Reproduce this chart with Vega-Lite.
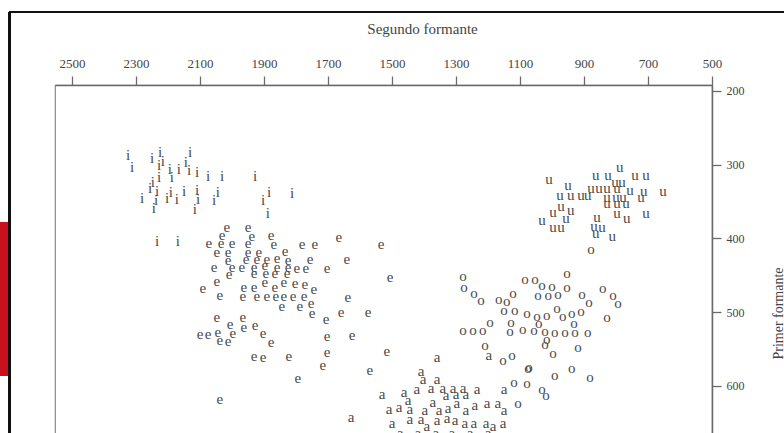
{
  "$schema": "https://vega.github.io/schema/vega-lite/v6.json",
  "width": 657,
  "height": 370,
  "autosize": {"type": "none"},
  "padding": {"left": 55, "top": 85, "right": 72, "bottom": 0},
  "background": "white",
  "config": {
    "view": {"stroke": "#8a8a8a", "strokeWidth": 1.2},
    "font": "Liberation Serif"
  },
  "data": {"values": [
    {"v":"i","f2":2325,"f1":287},{"v":"i","f2":2312,"f1":303},{"v":"i","f2":2250,"f1":291},{"v":"i","f2":2225,"f1":283},
    {"v":"i","f2":2216,"f1":295},{"v":"i","f2":2228,"f1":300},{"v":"i","f2":2228,"f1":317},{"v":"i","f2":2194,"f1":306},
    {"v":"i","f2":2188,"f1":317},{"v":"i","f2":2166,"f1":306},{"v":"i","f2":2144,"f1":296},{"v":"i","f2":2131,"f1":283},
    {"v":"i","f2":2134,"f1":307},{"v":"i","f2":2109,"f1":310},{"v":"i","f2":2075,"f1":315},{"v":"i","f2":2031,"f1":315},
    {"v":"i","f2":1928,"f1":315},{"v":"i","f2":2256,"f1":332},{"v":"i","f2":2247,"f1":323},{"v":"i","f2":2234,"f1":336},
    {"v":"i","f2":2281,"f1":345},{"v":"i","f2":2237,"f1":348},{"v":"i","f2":2244,"f1":359},{"v":"i","f2":2203,"f1":345},
    {"v":"i","f2":2191,"f1":337},{"v":"i","f2":2172,"f1":347},{"v":"i","f2":2150,"f1":336},{"v":"i","f2":2109,"f1":334},
    {"v":"i","f2":2106,"f1":347},{"v":"i","f2":2116,"f1":360},{"v":"i","f2":2056,"f1":348},{"v":"i","f2":2044,"f1":337},
    {"v":"i","f2":1903,"f1":348},{"v":"i","f2":1884,"f1":337},{"v":"i","f2":1888,"f1":366},{"v":"i","f2":1812,"f1":338},
    {"v":"i","f2":2234,"f1":404},{"v":"i","f2":2169,"f1":404},
    {"v":"e","f2":2016,"f1":385},{"v":"e","f2":1950,"f1":385},{"v":"e","f2":2031,"f1":395},{"v":"e","f2":1938,"f1":397},
    {"v":"e","f2":1878,"f1":395},{"v":"e","f2":2072,"f1":406},{"v":"e","f2":2034,"f1":406},{"v":"e","f2":2000,"f1":406},
    {"v":"e","f2":1950,"f1":406},{"v":"e","f2":1869,"f1":408},{"v":"e","f2":1781,"f1":408},{"v":"e","f2":1741,"f1":408},
    {"v":"e","f2":1666,"f1":398},{"v":"e","f2":1534,"f1":408},{"v":"e","f2":2047,"f1":418},{"v":"e","f2":2012,"f1":418},
    {"v":"e","f2":1950,"f1":418},{"v":"e","f2":1916,"f1":418},{"v":"e","f2":1834,"f1":417},{"v":"e","f2":2012,"f1":429},
    {"v":"e","f2":1956,"f1":428},{"v":"e","f2":1922,"f1":428},{"v":"e","f2":1891,"f1":428},{"v":"e","f2":1859,"f1":427},
    {"v":"e","f2":1825,"f1":429},{"v":"e","f2":1756,"f1":428},{"v":"e","f2":1641,"f1":428},{"v":"e","f2":2056,"f1":439},
    {"v":"e","f2":2000,"f1":439},{"v":"e","f2":1969,"f1":439},{"v":"e","f2":1931,"f1":439},{"v":"e","f2":1897,"f1":436},
    {"v":"e","f2":1859,"f1":439},{"v":"e","f2":1825,"f1":439},{"v":"e","f2":1797,"f1":440},{"v":"e","f2":1769,"f1":440},
    {"v":"e","f2":1703,"f1":440},{"v":"e","f2":2009,"f1":448},{"v":"e","f2":1931,"f1":447},{"v":"e","f2":1894,"f1":447},
    {"v":"e","f2":1866,"f1":447},{"v":"e","f2":1828,"f1":447},{"v":"e","f2":1506,"f1":452},{"v":"e","f2":2047,"f1":458},
    {"v":"e","f2":1963,"f1":466},{"v":"e","f2":1931,"f1":466},{"v":"e","f2":1897,"f1":459},{"v":"e","f2":1866,"f1":466},
    {"v":"e","f2":1838,"f1":459},{"v":"e","f2":1803,"f1":461},{"v":"e","f2":1772,"f1":462},{"v":"e","f2":1744,"f1":469},
    {"v":"e","f2":2091,"f1":467},{"v":"e","f2":2038,"f1":477},{"v":"e","f2":1966,"f1":478},{"v":"e","f2":1922,"f1":478},
    {"v":"e","f2":1891,"f1":478},{"v":"e","f2":1863,"f1":478},{"v":"e","f2":1838,"f1":478},{"v":"e","f2":1809,"f1":478},
    {"v":"e","f2":1775,"f1":478},{"v":"e","f2":1638,"f1":480},{"v":"e","f2":1844,"f1":492},{"v":"e","f2":1788,"f1":492},
    {"v":"e","f2":1753,"f1":488},{"v":"e","f2":1750,"f1":501},{"v":"e","f2":1659,"f1":500},{"v":"e","f2":1706,"f1":509},
    {"v":"e","f2":1575,"f1":500},{"v":"e","f2":2047,"f1":507},{"v":"e","f2":1966,"f1":507},{"v":"e","f2":2006,"f1":516},
    {"v":"e","f2":1963,"f1":520},{"v":"e","f2":1928,"f1":518},{"v":"e","f2":2100,"f1":530},{"v":"e","f2":2075,"f1":530},
    {"v":"e","f2":2044,"f1":527},{"v":"e","f2":2038,"f1":538},{"v":"e","f2":2012,"f1":539},{"v":"e","f2":1997,"f1":528},
    {"v":"e","f2":1903,"f1":528},{"v":"e","f2":1878,"f1":541},{"v":"e","f2":1703,"f1":532},{"v":"e","f2":1625,"f1":531},
    {"v":"e","f2":1703,"f1":554},{"v":"e","f2":1716,"f1":572},{"v":"e","f2":1516,"f1":553},{"v":"e","f2":1569,"f1":579},
    {"v":"e","f2":1931,"f1":560},{"v":"e","f2":1903,"f1":561},{"v":"e","f2":1822,"f1":560},{"v":"e","f2":1794,"f1":589},
    {"v":"e","f2":2038,"f1":618},
    {"v":"a","f2":1531,"f1":611},{"v":"a","f2":1462,"f1":608},{"v":"a","f2":1422,"f1":604},{"v":"a","f2":1450,"f1":619},
    {"v":"a","f2":1509,"f1":632},{"v":"a","f2":1478,"f1":629},{"v":"a","f2":1444,"f1":632},{"v":"a","f2":1500,"f1":651},
    {"v":"a","f2":1444,"f1":645},{"v":"a","f2":1628,"f1":642},{"v":"a","f2":1359,"f1":561},{"v":"a","f2":1409,"f1":580},
    {"v":"a","f2":1403,"f1":591},{"v":"a","f2":1359,"f1":591},{"v":"a","f2":1378,"f1":603},{"v":"a","f2":1341,"f1":603},
    {"v":"a","f2":1309,"f1":603},{"v":"a","f2":1278,"f1":603},{"v":"a","f2":1234,"f1":604},{"v":"a","f2":1150,"f1":604},
    {"v":"a","f2":1331,"f1":613},{"v":"a","f2":1300,"f1":611},{"v":"a","f2":1269,"f1":611},{"v":"a","f2":1397,"f1":633},
    {"v":"a","f2":1372,"f1":622},{"v":"a","f2":1353,"f1":633},{"v":"a","f2":1325,"f1":630},{"v":"a","f2":1297,"f1":623},
    {"v":"a","f2":1269,"f1":633},{"v":"a","f2":1241,"f1":626},{"v":"a","f2":1203,"f1":623},{"v":"a","f2":1169,"f1":623},
    {"v":"a","f2":1150,"f1":633},{"v":"a","f2":1409,"f1":645},{"v":"a","f2":1391,"f1":655},{"v":"a","f2":1359,"f1":646},
    {"v":"a","f2":1328,"f1":644},{"v":"a","f2":1303,"f1":646},{"v":"a","f2":1272,"f1":651},{"v":"a","f2":1244,"f1":651},
    {"v":"a","f2":1206,"f1":651},{"v":"a","f2":1184,"f1":655},{"v":"a","f2":1153,"f1":651},{"v":"a","f2":1197,"f1":558},
    {"v":"a","f2":1475,"f1":664},{"v":"a","f2":1419,"f1":664},{"v":"a","f2":1363,"f1":664},{"v":"a","f2":1313,"f1":664},
    {"v":"a","f2":1256,"f1":664},{"v":"a","f2":1200,"f1":664},
    {"v":"o","f2":1209,"f1":545},{"v":"o","f2":1153,"f1":565},{"v":"o","f2":1125,"f1":558},{"v":"o","f2":1072,"f1":575},
    {"v":"o","f2":1119,"f1":595},{"v":"o","f2":1078,"f1":596},{"v":"o","f2":1106,"f1":623},{"v":"o","f2":1278,"f1":451},
    {"v":"o","f2":953,"f1":447},{"v":"o","f2":1275,"f1":466},{"v":"o","f2":1244,"f1":474},{"v":"o","f2":1222,"f1":484},
    {"v":"o","f2":1084,"f1":455},{"v":"o","f2":1053,"f1":455},{"v":"o","f2":1031,"f1":463},{"v":"o","f2":1000,"f1":465},
    {"v":"o","f2":953,"f1":466},{"v":"o","f2":841,"f1":467},{"v":"o","f2":809,"f1":477},{"v":"o","f2":794,"f1":488},
    {"v":"o","f2":1122,"f1":474},{"v":"o","f2":1166,"f1":482},{"v":"o","f2":1141,"f1":485},{"v":"o","f2":1044,"f1":477},
    {"v":"o","f2":1012,"f1":477},{"v":"o","f2":981,"f1":475},{"v":"o","f2":906,"f1":475},{"v":"o","f2":884,"f1":486},
    {"v":"o","f2":1150,"f1":497},{"v":"o","f2":1116,"f1":497},{"v":"o","f2":1078,"f1":501},{"v":"o","f2":1047,"f1":505},
    {"v":"o","f2":1016,"f1":504},{"v":"o","f2":984,"f1":494},{"v":"o","f2":966,"f1":505},{"v":"o","f2":938,"f1":501},
    {"v":"o","f2":909,"f1":499},{"v":"o","f2":828,"f1":507},{"v":"o","f2":1194,"f1":513},{"v":"o","f2":1128,"f1":513},
    {"v":"o","f2":1041,"f1":515},{"v":"o","f2":931,"f1":515},{"v":"o","f2":1278,"f1":524},{"v":"o","f2":1247,"f1":524},
    {"v":"o","f2":1216,"f1":524},{"v":"o","f2":1131,"f1":526},{"v":"o","f2":1091,"f1":523},{"v":"o","f2":1056,"f1":524},
    {"v":"o","f2":1022,"f1":526},{"v":"o","f2":991,"f1":527},{"v":"o","f2":959,"f1":527},{"v":"o","f2":928,"f1":527},
    {"v":"o","f2":888,"f1":527},{"v":"o","f2":1016,"f1":537},{"v":"o","f2":1022,"f1":543},{"v":"o","f2":919,"f1":547},
    {"v":"o","f2":997,"f1":556},{"v":"o","f2":1075,"f1":576},{"v":"o","f2":938,"f1":576},{"v":"o","f2":991,"f1":585},
    {"v":"o","f2":881,"f1":588},{"v":"o","f2":1031,"f1":604},{"v":"o","f2":1019,"f1":613},{"v":"o","f2":878,"f1":414},
    {"v":"u","f2":788,"f1":303},{"v":"u","f2":863,"f1":314},{"v":"u","f2":825,"f1":314},{"v":"u","f2":741,"f1":314},
    {"v":"u","f2":706,"f1":314},{"v":"u","f2":1009,"f1":319},{"v":"u","f2":803,"f1":323},{"v":"u","f2":781,"f1":323},
    {"v":"u","f2":950,"f1":328},{"v":"u","f2":878,"f1":332},{"v":"u","f2":853,"f1":332},{"v":"u","f2":828,"f1":332},
    {"v":"u","f2":797,"f1":332},{"v":"u","f2":756,"f1":334},{"v":"u","f2":713,"f1":336},{"v":"u","f2":653,"f1":336},
    {"v":"u","f2":975,"f1":341},{"v":"u","f2":941,"f1":341},{"v":"u","f2":909,"f1":341},{"v":"u","f2":888,"f1":341},
    {"v":"u","f2":828,"f1":344},{"v":"u","f2":800,"f1":344},{"v":"u","f2":778,"f1":344},{"v":"u","f2":722,"f1":344},
    {"v":"u","f2":972,"f1":356},{"v":"u","f2":941,"f1":361},{"v":"u","f2":997,"f1":364},{"v":"u","f2":828,"f1":352},
    {"v":"u","f2":797,"f1":352},{"v":"u","f2":769,"f1":352},{"v":"u","f2":1031,"f1":375},{"v":"u","f2":956,"f1":372},
    {"v":"u","f2":797,"f1":366},{"v":"u","f2":766,"f1":372},{"v":"u","f2":706,"f1":366},{"v":"u","f2":997,"f1":385},
    {"v":"u","f2":972,"f1":385},{"v":"u","f2":859,"f1":371},{"v":"u","f2":869,"f1":383},{"v":"u","f2":844,"f1":385},
    {"v":"u","f2":863,"f1":393},{"v":"u","f2":812,"f1":397}
  ]},
  "layer": [
    {
      "mark": {"type": "text", "font": "Liberation Serif", "fontSize": 15, "fill": "#4a4a4a", "align": "center", "baseline": "middle"},
      "encoding": {
        "x": {
          "field": "f2", "type": "quantitative",
          "scale": {"domain": [500, 2553], "reverse": true, "nice": false, "zero": false},
          "axis": {
            "orient": "top", "values": [2500, 2300, 2100, 1900, 1700, 1500, 1300, 1100, 900, 700, 500], "format": "d",
            "grid": false, "domainColor": "#6a6a6a", "domainWidth": 1.5, "tickColor": "#6a6a6a", "tickWidth": 1.3, "tickSize": 9,
            "labelFont": "Liberation Serif", "labelFontSize": 13, "labelColor": "#444444", "labelPadding": 6, "labelFlush": false,
            "title": "Segundo formante", "titleFont": "Liberation Serif", "titleFontSize": 15, "titleFontWeight": "normal", "titleColor": "#444444",
            "titleX": 367, "titleY": -57, "titleAlign": "center", "titleBaseline": "middle"
          }
        },
        "y": {
          "field": "f1", "type": "quantitative",
          "scale": {"domain": [192, 694], "reverse": true, "nice": false, "zero": false},
          "axis": {
            "orient": "right", "values": [200, 300, 400, 500, 600], "format": "d",
            "grid": false, "domainColor": "#6a6a6a", "domainWidth": 1.5, "tickColor": "#6a6a6a", "tickWidth": 1.3, "tickSize": 9,
            "labelFont": "Liberation Serif", "labelFontSize": 12, "labelColor": "#444444", "labelPadding": 5, "labelFlush": false,
            "title": "Primer formante", "titleFont": "Liberation Serif", "titleFontSize": 14, "titleFontWeight": "normal", "titleColor": "#444444",
            "titleAngle": 270, "titleX": 66, "titleY": 228, "titleAlign": "center", "titleBaseline": "middle"
          }
        },
        "text": {"field": "v", "type": "nominal"}
      }
    },
    {
      "mark": {"type": "rect", "color": "#c8101e", "clip": false},
      "encoding": {
        "x": {"datum": 2725, "type": "quantitative"},
        "x2": {"datum": 2694},
        "y": {"datum": 378, "type": "quantitative"},
        "y2": {"datum": 586}
      }
    },
    {
      "mark": {"type": "rule", "color": "#111111", "strokeWidth": 2, "clip": false},
      "encoding": {
        "x": {"datum": 2694, "type": "quantitative"},
        "y": {"datum": 93, "type": "quantitative"},
        "y2": {"datum": 694}
      }
    },
    {
      "mark": {"type": "rule", "color": "#111111", "strokeWidth": 2, "clip": false},
      "encoding": {
        "x": {"datum": 2694, "type": "quantitative"},
        "x2": {"datum": 270},
        "y": {"datum": 93, "type": "quantitative"}
      }
    }
  ]
}
